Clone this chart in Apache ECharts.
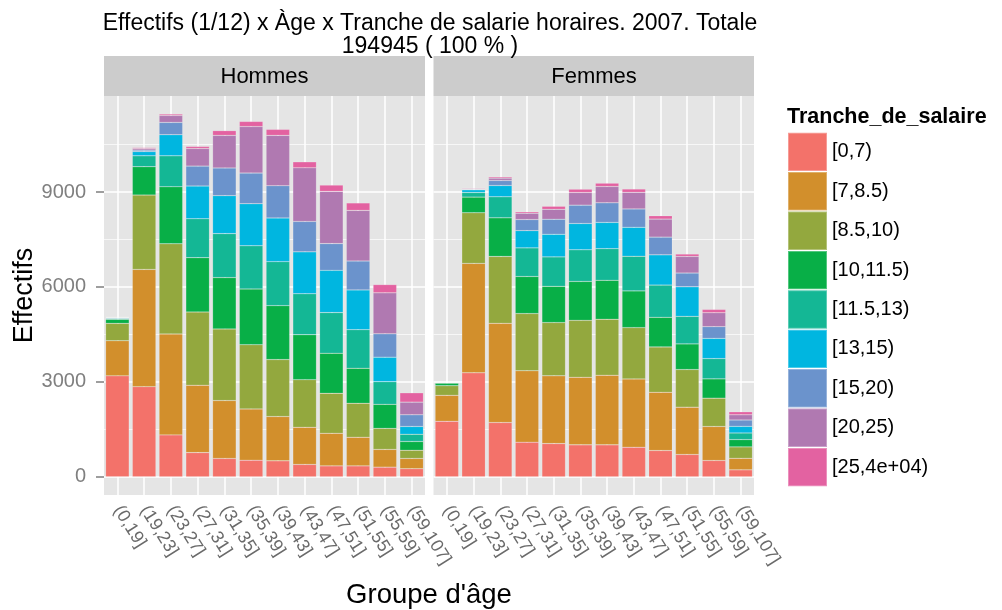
<!DOCTYPE html>
<html>
<head>
<meta charset="utf-8">
<script src="https://cdn.jsdelivr.net/npm/echarts@6/dist/echarts.min.js"></script>
<style>
  body { margin: 0; background: #fff; }
  #chart { width: 1002px; height: 610px; }
</style>
</head>
<body>
<div id="chart"></div>
<script>
// age groups (x categories)
var ages = ['(0,19]', '(19,23]', '(23,27]', '(27,31]', '(31,35]', '(35,39]',
            '(39,43]', '(43,47]', '(47,51]', '(51,55]', '(55,59]', '(59,107]'];

// salary bands (stack order, bottom to top)
var tranches = ['[0,7)', '[7,8.5)', '[8.5,10)', '[10,11.5)', '[11.5,13)',
                '[13,15)', '[15,20)', '[20,25)', '[25,4e+04)'];

var colors = ['#F3726A', '#D28F2C', '#93A83E', '#08AF47', '#14B795',
              '#00B6E0', '#6B93CC', '#B079B1', '#E362A1'];

// Hommes, one array per band, values per age group
var h1 = [3190, 2850, 1325, 765, 580, 525, 505, 390, 345, 345, 305, 255];
var h2 = [1110, 3705, 3190, 2130, 1830, 1620, 1400, 1175, 1030, 905, 560, 325];
var h3 = [550, 2350, 2850, 2315, 2265, 2030, 1800, 1505, 1265, 1075, 665, 260];
var h4 = [125, 895, 1800, 1715, 1620, 1760, 1705, 1420, 1265, 1105, 760, 275];
var h5 = [25, 345, 980, 1230, 1390, 1365, 1390, 1295, 1285, 1220, 715, 230];
var h6 = [20, 135, 665, 1035, 1200, 1330, 1380, 1325, 1335, 1255, 775, 245];
var h7 = [15, 45, 390, 630, 875, 970, 1020, 960, 845, 915, 740, 370];
var h8 = [10, 50, 220, 555, 1030, 1470, 1590, 1695, 1650, 1600, 1295, 400];
var h9 = [5, 30, 45, 65, 150, 160, 190, 190, 200, 235, 260, 295];

// Femmes
var f1 = [1755, 3285, 1715, 1095, 1050, 1010, 1010, 935, 830, 705, 515, 220];
var f2 = [820, 3460, 3135, 2255, 2140, 2135, 2200, 2160, 1840, 1495, 1075, 365];
var f3 = [305, 1600, 2115, 1810, 1685, 1800, 1770, 1620, 1435, 1190, 895, 360];
var f4 = [80, 495, 1220, 1170, 1145, 1230, 1230, 1160, 935, 810, 610, 230];
var f5 = [15, 145, 665, 905, 930, 1000, 1000, 1095, 1020, 870, 640, 210];
var f6 = [5, 85, 355, 545, 715, 830, 830, 915, 955, 935, 640, 210];
var f7 = [5, 20, 160, 350, 475, 580, 620, 580, 560, 435, 370, 200];
var f8 = [3, 20, 75, 200, 315, 400, 515, 525, 570, 525, 440, 165];
var f9 = [2, 20, 40, 45, 95, 105, 105, 105, 105, 75, 105, 95];

var majorTicks = [0, 3000, 6000, 9000];
var minorTicks = [1500, 4500, 7500, 10500];

var hommes = [h1, h2, h3, h4, h5, h6, h7, h8, h9];
var femmes = [f1, f2, f3, f4, f5, f6, f7, f8, f9];

var FONT = 'Liberation Sans, Arial, Helvetica, sans-serif';
var yMin = -575, yMax = 12035;

function xAxisFor(gi) {
  return {
    type: 'category', gridIndex: gi, data: ages,
    axisLine: { show: false },
    axisTick: { alignWithLabel: true, length: 8, lineStyle: { color: '#7F7F7F', width: 1.5 } },
    axisLabel: { rotate: -58, color: '#6A6A6A', fontSize: 18, fontFamily: FONT, margin: 12, interval: 0 },
    splitLine: { show: true, alignWithLabel: true, lineStyle: { color: '#fff', width: 1.5 } }
  };
}

function yAxisFor(gi, ticks, major, labels) {
  return {
    type: 'value', gridIndex: gi, min: yMin, max: yMax,
    axisLine: { show: false },
    axisTick: { show: labels, customValues: ticks, length: 8, lineStyle: { color: '#7F7F7F', width: 1.5 } },
    axisLabel: {
      show: labels, customValues: ticks, color: '#7F7F7F', fontSize: 20, fontFamily: FONT, margin: 18,
      formatter: function (v) { return String(v); }
    },
    splitLine: { show: true, customValues: ticks, lineStyle: { color: '#fff', width: major ? 1.5 : 0.7 } },
    name: gi === 0 && major ? 'Effectifs' : '',
    nameLocation: 'middle', nameGap: 64, nameRotate: 90,
    nameTextStyle: { color: '#000', fontSize: 27, fontFamily: FONT }
  };
}

var series = [];
[hommes, femmes].forEach(function (group, gi) {
  group.forEach(function (vals, i) {
    series.push({
      type: 'bar', name: tranches[i], stack: gi === 0 ? 'H' : 'F',
      xAxisIndex: gi, yAxisIndex: gi * 2,
      barWidth: '88%', data: vals,
      itemStyle: { color: colors[i], borderColor: 'rgba(255,255,255,0.3)', borderWidth: 0.5 },
      emphasis: { disabled: true }
    });
  });
});

var chart = echarts.init(document.getElementById('chart'));
chart.setOption({
  backgroundColor: '#fff',
  animation: false,
  textStyle: { fontFamily: FONT },
  title: [{
    text: 'Effectifs (1/12) x Àge x Tranche de salarie horaires. 2007. Totale\n194945 ( 100 % )',
    left: 425, top: 7, textAlign: 'center',
    textStyle: { fontSize: 23, fontWeight: 'normal', color: '#000', lineHeight: 23, fontFamily: FONT }
  }, {
    text: 'Tranche_de_salaire', left: 787, top: 106, padding: 0,
    textStyle: { fontSize: 21.5, fontWeight: 'bold', color: '#000', fontFamily: FONT }
  }],
  legend: {
    data: tranches, orient: 'vertical', left: 787, top: 131.7, padding: 0,
    itemWidth: 39, itemHeight: 38.4, itemGap: -1, icon: 'rect',
    textStyle: { fontSize: 20, color: '#000', fontFamily: FONT, padding: [4, 0, 0, 0] },
    selectedMode: false
  },
  grid: [
    { left: 104, top: 96, width: 321, height: 399, show: true, backgroundColor: '#E5E5E5', borderWidth: 0 },
    { left: 433.5, top: 96, width: 320.5, height: 399, show: true, backgroundColor: '#E5E5E5', borderWidth: 0 }
  ],
  xAxis: [xAxisFor(0), xAxisFor(1)],
  yAxis: [
    yAxisFor(0, majorTicks, true, true), yAxisFor(0, minorTicks, false, false),
    yAxisFor(1, majorTicks, true, false), yAxisFor(1, minorTicks, false, false)
  ],
  graphic: [
    { type: 'rect', shape: { x: 104, y: 56, width: 321, height: 40 }, style: { fill: '#CCCCCC' } },
    { type: 'rect', shape: { x: 433.5, y: 56, width: 320.5, height: 40 }, style: { fill: '#CCCCCC' } },
    { type: 'text', x: 264.5, y: 77, style: { text: 'Hommes', fontSize: 22, fontFamily: FONT, fill: '#000', textAlign: 'center', textVerticalAlign: 'middle' } },
    { type: 'text', x: 594, y: 77, style: { text: 'Femmes', fontSize: 22, fontFamily: FONT, fill: '#000', textAlign: 'center', textVerticalAlign: 'middle' } },
    { type: 'text', x: 429, y: 595, style: { text: "Groupe d'âge", fontSize: 27.5, fontFamily: FONT, fill: '#000', textAlign: 'center', textVerticalAlign: 'middle' } }
  ],
  series: series
});
</script>
</body>
</html>
